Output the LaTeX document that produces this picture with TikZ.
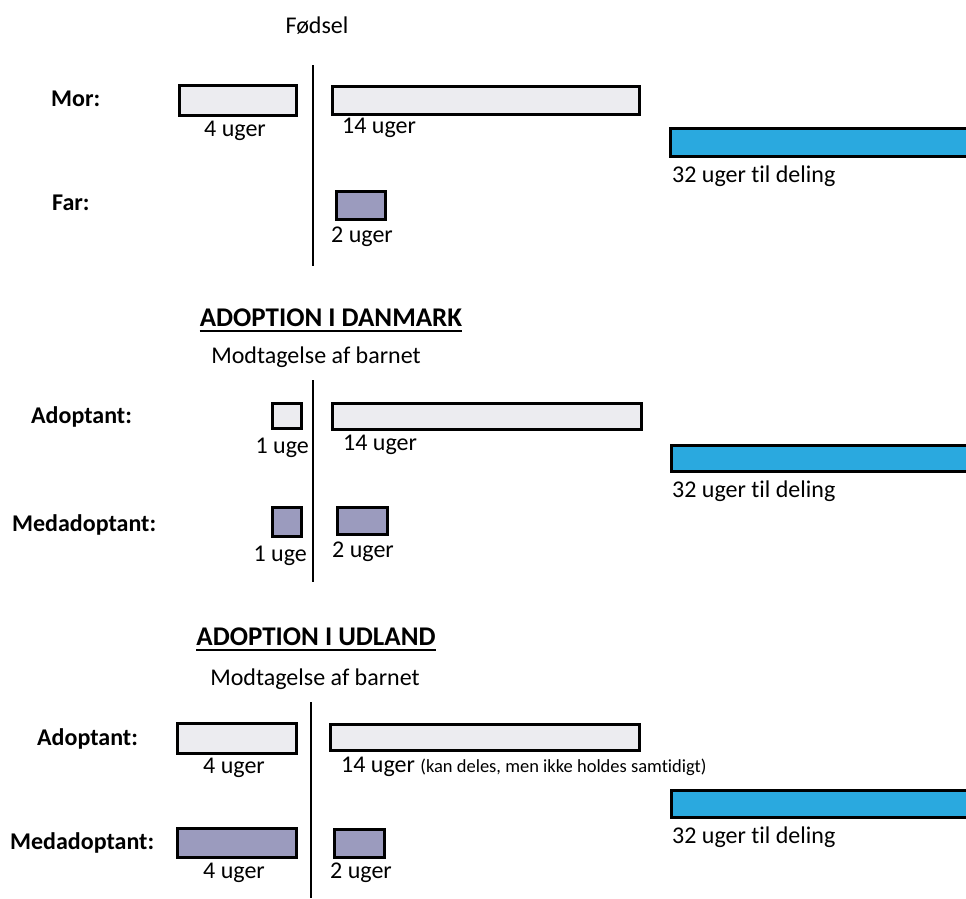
\documentclass[tikz,border=0pt]{standalone}
\usepackage{fontspec}
\setmainfont{Carlito}[Ligatures=NoCommon]
\definecolor{lysgraa}{HTML}{ECECF0}
\definecolor{lillagraa}{HTML}{9B9BBE}
\definecolor{deling}{HTML}{2AA9DF}

\begin{document}
\begin{tikzpicture}[x=1pt,y=-1pt,
    tekst/.style={font=\fontsize{24}{28}\selectfont,inner sep=0pt},
    navn/.style={font=\bfseries\fontsize{24}{28}\selectfont,inner sep=0pt,anchor=base west},
    titel/.style={font=\bfseries\fontsize{27}{30}\selectfont,inner sep=0pt,anchor=base},
    boks/.style={draw,line width=2.8pt,inner sep=0pt,anchor=north west},
    lysboks/.style={boks,fill=lysgraa},
    graaboks/.style={boks,fill=lillagraa},
    blaaboks/.style={boks,fill=deling},
    skille/.style={line width=1.8pt}]
  \useasboundingbox (0,0) rectangle (966,898);
  \fill[white] (0,0) rectangle (966,898);

  % foedsel
  \node[tekst,anchor=base] (fodsel) at (317,33) {Fødsel};
  \draw[skille] (313,65) -- (313,266);
  \node[navn] (mor) at (51,106) {Mor:};
  \node[lysboks,minimum width=117pt,minimum height=30pt] (morFoer) at (178,84) {};
  \node[tekst,anchor=base] (morFoerTxt) at (235,136) {4 uger};
  \node[lysboks,minimum width=307pt,minimum height=28pt] (morEfter) at (331,85) {};
  \node[tekst,anchor=base west] (morEfterTxt) at (342,133) {14 uger};
  \node[blaaboks,minimum width=310pt,minimum height=28pt] (delingA) at (669,127) {};
  \node[tekst,anchor=base west] (delingATxt) at (672,182) {32 uger til deling};
  \node[navn] (far) at (52,210) {Far:};
  \node[graaboks,minimum width=49pt,minimum height=28pt] (farEfter) at (335,190) {};
  \node[tekst,anchor=base west] (farEfterTxt) at (331,242) {2 uger};

  % adoption i danmark
  \node[titel] (danmark) at (331,326) {ADOPTION I DANMARK};
  \draw[line width=1.8pt] ([yshift=-5pt]danmark.base west) -- ([yshift=-5pt]danmark.base east);
  \node[tekst,anchor=base] (modtagDk) at (316,363) {Modtagelse af barnet};
  \draw[skille] (313,380) -- (313,582);
  \node[navn] (adoptDk) at (31,423) {Adoptant:};
  \node[lysboks,minimum width=29pt,minimum height=25pt] (adoptDkFoer) at (271,402) {};
  \node[tekst,anchor=base east] (adoptDkFoerTxt) at (309,453) {1 uge};
  \node[lysboks,minimum width=309pt,minimum height=26pt] (adoptDkEfter) at (331,402) {};
  \node[tekst,anchor=base west] (adoptDkEfterTxt) at (343,450) {14 uger};
  \node[blaaboks,minimum width=310pt,minimum height=26pt] (delingB) at (670,444) {};
  \node[tekst,anchor=base west] (delingBTxt) at (672,497) {32 uger til deling};
  \node[navn] (medDk) at (12,531) {Medadoptant:};
  \node[graaboks,minimum width=29pt,minimum height=29pt] (medDkFoer) at (271,506) {};
  \node[tekst,anchor=base east] (medDkFoerTxt) at (307,561) {1 uge};
  \node[graaboks,minimum width=50pt,minimum height=27pt] (medDkEfter) at (336,506) {};
  \node[tekst,anchor=base west] (medDkEfterTxt) at (332,557) {2 uger};

  % adoption i udland
  \node[titel] (udland) at (316,645) {ADOPTION I UDLAND};
  \draw[line width=1.8pt] ([yshift=-5pt]udland.base west) -- ([yshift=-5pt]udland.base east);
  \node[tekst,anchor=base] (modtagUd) at (315,685) {Modtagelse af barnet};
  \draw[skille] (311,702) -- (311,898);
  \node[navn] (adoptUd) at (37,745) {Adoptant:};
  \node[lysboks,minimum width=119pt,minimum height=30pt] (adoptUdFoer) at (176,722) {};
  \node[tekst,anchor=base] (adoptUdFoerTxt) at (234,773) {4 uger};
  \node[lysboks,minimum width=309pt,minimum height=26pt] (adoptUdEfter) at (329,723) {};
  \node[tekst,anchor=base west] (adoptUdEfterTxt) at (341,772)
    {14 uger {\fontsize{18.5}{21}\selectfont(kan deles, men ikke holdes samtidigt)}};
  \node[blaaboks,minimum width=310pt,minimum height=27pt] (delingC) at (670,789) {};
  \node[tekst,anchor=base west] (delingCTxt) at (672,843) {32 uger til deling};
  \node[navn] (medUd) at (10,849) {Medadoptant:};
  \node[graaboks,minimum width=119pt,minimum height=29pt] (medUdFoer) at (176,827) {};
  \node[tekst,anchor=base] (medUdFoerTxt) at (234,878) {4 uger};
  \node[graaboks,minimum width=50pt,minimum height=28pt] (medUdEfter) at (333,828) {};
  \node[tekst,anchor=base west] (medUdEfterTxt) at (330,878) {2 uger};
\end{tikzpicture}
\end{document}
